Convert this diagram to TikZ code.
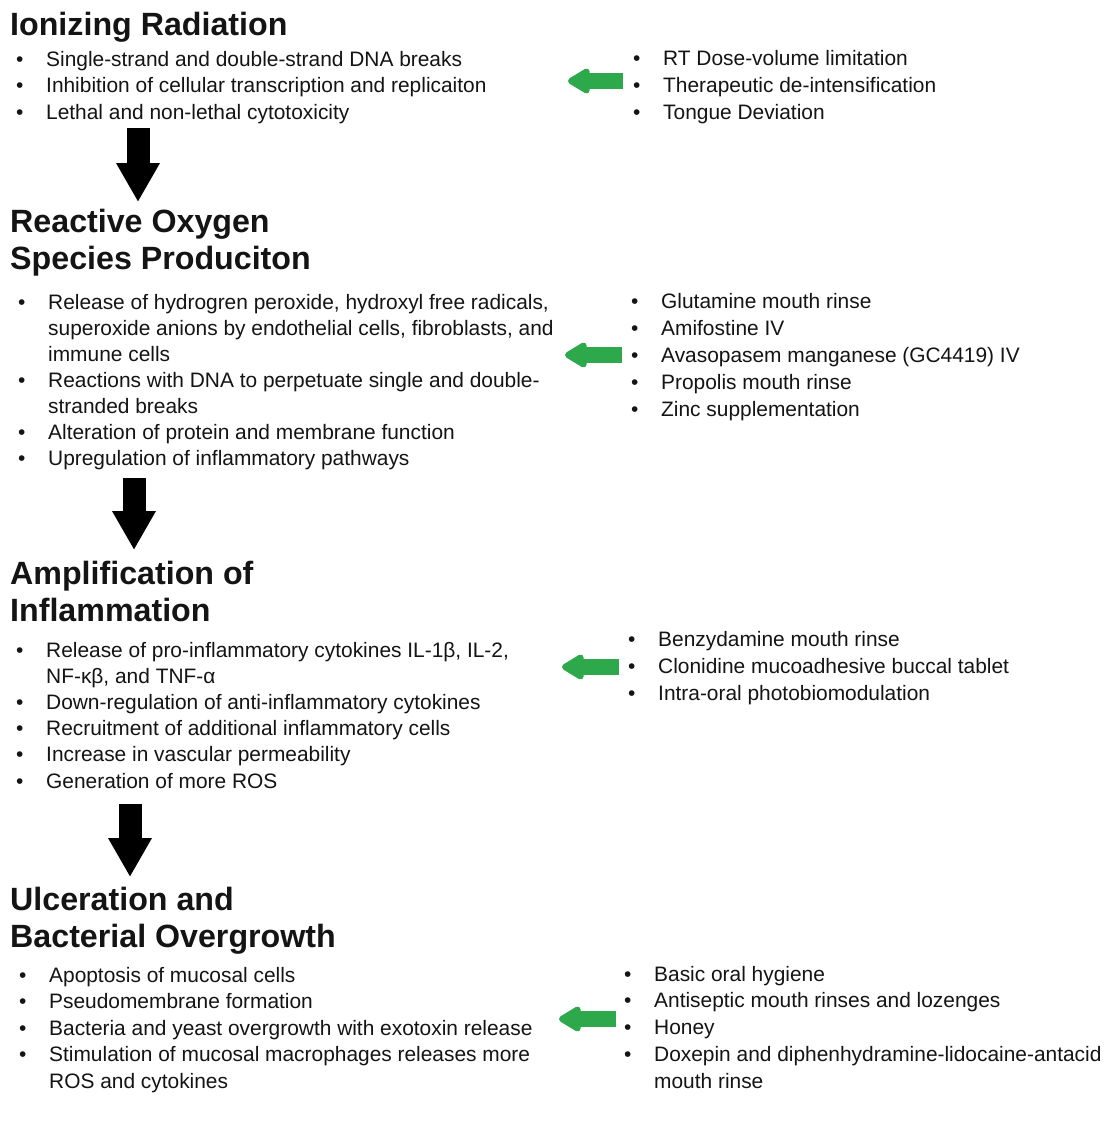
\documentclass[tikz,border=0pt]{standalone}
\usepackage{fontspec}
\setmainfont{Liberation Sans}
\usetikzlibrary{arrows.meta}
\definecolor{grn}{RGB}{45,168,75}
\definecolor{txt}{RGB}{20,20,20}
\newcommand{\blist}[2]{{\fontsize{20.9}{#1}\selectfont\begin{tabular}[t]{@{}p{30pt}@{}l@{}}#2\end{tabular}}}
\newcommand{\hlines}[1]{{\fontsize{32.2}{37}\selectfont\bfseries\begin{tabular}[t]{@{}l@{}}#1\end{tabular}}}
\newcommand{\bu}{\textbullet}
\begin{document}
\begin{tikzpicture}[x=1pt,y=-1pt,
  head/.style={anchor=base west, inner sep=0, text=txt},
  lst/.style={anchor=base west, inner sep=0, text=txt},
  downarrow/.style={line width=23pt, -{Triangle[length=39pt,width=41pt]}},
  grnarrow/.style={draw=grn, line width=16pt, -{Triangle[length=25pt,width=28pt,round]}}]
\useasboundingbox (0,0) rectangle (1106,1136);
\fill[white] (0,0) rectangle (1106,1136);

% headings
\node[head] (h1) at (10,35) {\hlines{Ionizing Radiation}};
\node[head] (h2) at (10,232) {\hlines{Reactive Oxygen\\Species Produciton}};
\node[head] (h3) at (10,584) {\hlines{Amplification of\\Inflammation}};
\node[head] (h4) at (10,910) {\hlines{Ulceration and\\Bacterial Overgrowth}};

% left lists
\node[lst] (l1) at (16,66) {\blist{26.5}{
\bu & Single-strand and double-strand DNA breaks\\
\bu & Inhibition of cellular transcription and replicaiton\\
\bu & Lethal and non-lethal cytotoxicity}};
\node[lst] (l2) at (18,309) {\blist{26}{
\bu & Release of hydrogren peroxide, hydroxyl free radicals,\\
    & superoxide anions by endothelial cells, fibroblasts, and\\
    & immune cells\\
\bu & Reactions with DNA to perpetuate single and double-\\
    & stranded breaks\\
\bu & Alteration of protein and membrane function\\
\bu & Upregulation of inflammatory pathways}};
\node[lst] (l3) at (16,657) {\blist{26.2}{
\bu & Release of pro-inflammatory cytokines IL-1β, IL-2,\\
    & NF-κβ, and TNF-α\\
\bu & Down-regulation of anti-inflammatory cytokines\\
\bu & Recruitment of additional inflammatory cells\\
\bu & Increase in vascular permeability\\
\bu & Generation of more ROS}};
\node[lst] (l4) at (19,982) {\blist{26.5}{
\bu & Apoptosis of mucosal cells\\
\bu & Pseudomembrane formation\\
\bu & Bacteria and yeast overgrowth with exotoxin release\\
\bu & Stimulation of mucosal macrophages releases more\\
    & ROS and cytokines}};

% right lists
\node[lst] (r1) at (633,65) {\blist{27}{
\bu & RT Dose-volume limitation\\
\bu & Therapeutic de-intensification\\
\bu & Tongue Deviation}};
\node[lst] (r2) at (631,308) {\blist{27}{
\bu & Glutamine mouth rinse\\
\bu & Amifostine IV\\
\bu & Avasopasem manganese (GC4419) IV\\
\bu & Propolis mouth rinse\\
\bu & Zinc supplementation}};
\node[lst] (r3) at (628,646) {\blist{27}{
\bu & Benzydamine mouth rinse\\
\bu & Clonidine mucoadhesive buccal tablet\\
\bu & Intra-oral photobiomodulation}};
\node[lst] (r4) at (624,981) {\blist{26.75}{
\bu & Basic oral hygiene\\
\bu & Antiseptic mouth rinses and lozenges\\
\bu & Honey\\
\bu & Doxepin and diphenhydramine-lidocaine-antacid\\
    & mouth rinse}};

% black down arrows
\coordinate (a1s) at (138,128); \coordinate (a1e) at (138,202);
\coordinate (a2s) at (134,478); \coordinate (a2e) at (134,550);
\coordinate (a3s) at (130,804); \coordinate (a3e) at (130,877);
\draw[downarrow] (a1s) -- (a1e);
\draw[downarrow] (a2s) -- (a2e);
\draw[downarrow] (a3s) -- (a3e);

% green arrows
\coordinate (g1s) at (623,81);   \coordinate (g1e) at (568,81);
\coordinate (g2s) at (622,355);  \coordinate (g2e) at (565,355);
\coordinate (g3s) at (619,667);  \coordinate (g3e) at (562,667);
\coordinate (g4s) at (616,1019); \coordinate (g4e) at (559,1019);
\draw[grnarrow] (g1s) -- (g1e);
\draw[grnarrow] (g2s) -- (g2e);
\draw[grnarrow] (g3s) -- (g3e);
\draw[grnarrow] (g4s) -- (g4e);
\end{tikzpicture}
\end{document}
